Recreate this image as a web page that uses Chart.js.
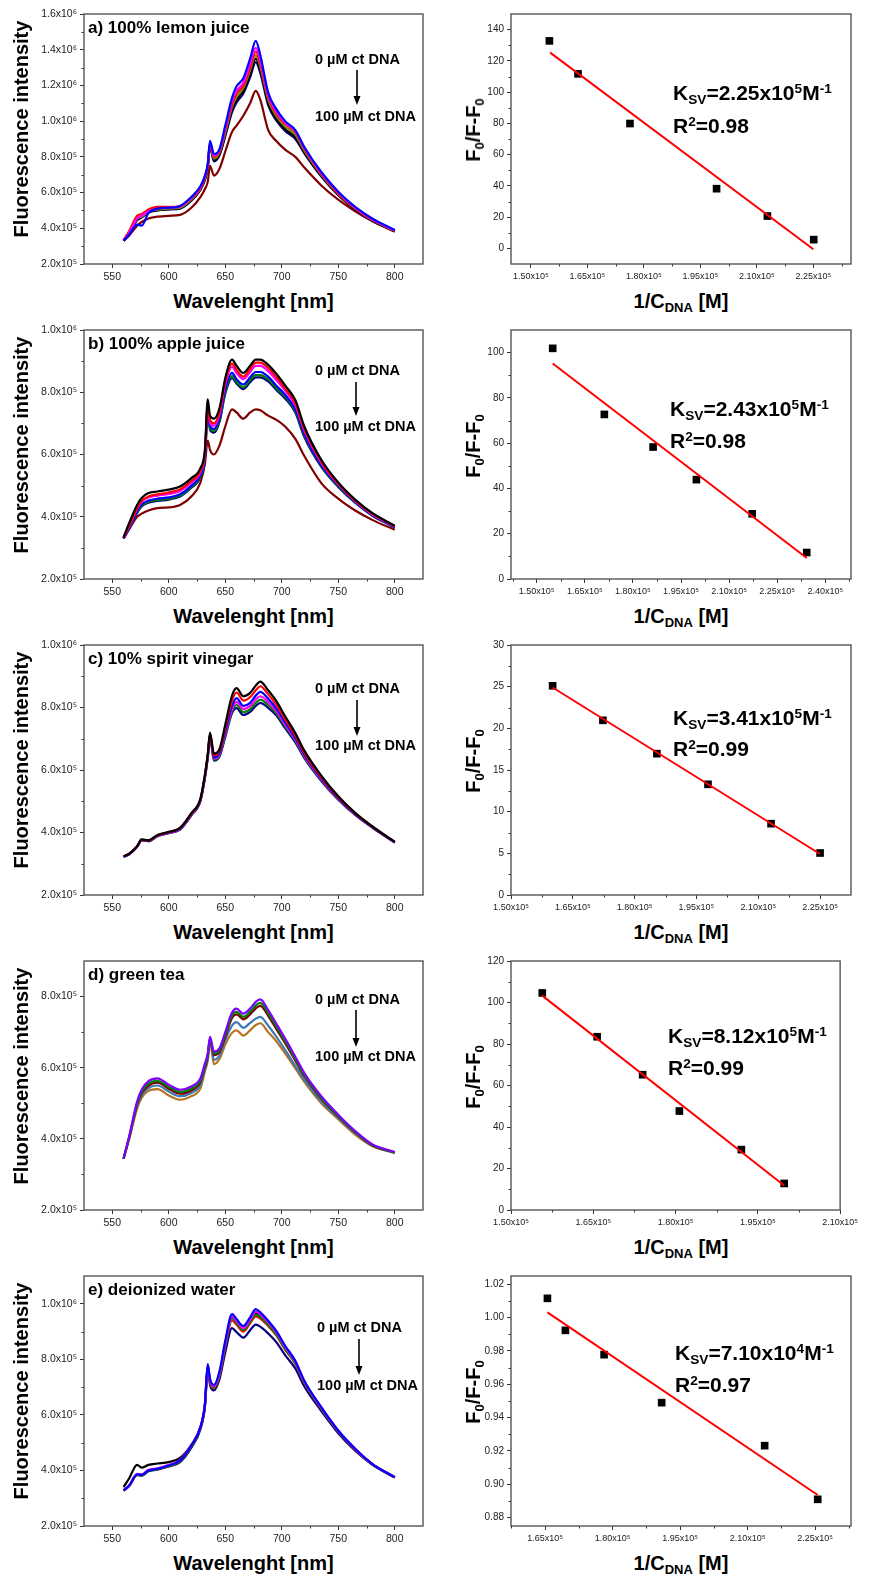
<!DOCTYPE html>
<html>
<head>
<meta charset="utf-8">
<title>Fluorescence quenching by ct DNA</title>
<script src="https://cdn.jsdelivr.net/npm/chart.js@4.4.1/dist/chart.umd.min.js"></script>
<style>
  html, body { margin: 0; padding: 0; background: #fff; }
  body { position: relative; width: 873px; height: 1584px; overflow: hidden;
         font-family: Arial, "Liberation Sans", Helvetica, sans-serif; color: #000; }
  #charts canvas { position: absolute; }
  .txt { position: absolute; font-weight: bold; white-space: nowrap; line-height: 1; transform: translateY(-50%); }
  .ytitle { font-size: 20px; transform: translate(-50%, -50%) rotate(-90deg); }
  .xtitle { font-size: 20px; transform: translate(-50%, -50%); }
  .plabel { font-size: 17px; }
  .conc { font-size: 14.5px; }
  .ann { font-size: 21px; }
  sub, sup { font-size: 0.65em; line-height: 0; position: relative; vertical-align: baseline; }
  sub { top: 0.3em; }
  sup { top: -0.5em; }
  #arrows { position: absolute; left: 0; top: 0; }
</style>
</head>
<body>
<div id="charts"></div>
<div id="labels"></div>
<svg id="arrows" width="873" height="1584"></svg>
<script>
// ============================================
// Spectra (x10^5 counts) and Stern-Volmer plots
// ============================================

const wavelength = [560, 565, 572, 576, 582, 590, 600, 610, 620, 628, 632, 634.5, 636.5, 640, 645, 650,
                    656, 660, 666, 672, 677, 681, 688, 695, 703, 712, 720, 735, 750, 765, 780, 800];

// a) lemon juice
const lemonBlue    = [3.30, 3.65, 4.20, 4.15, 4.85, 5.10, 5.15, 5.25, 5.75, 6.35, 6.95, 7.60, 8.90, 8.15, 8.45, 9.75, 11.30, 11.95, 12.40, 13.50, 14.50, 13.70, 11.60, 10.70, 10.00, 9.50, 8.55, 7.15, 6.05, 5.20, 4.55, 3.90];
const lemonMagenta = [3.32, 3.75, 4.55, 4.70, 4.95, 5.10, 5.15, 5.22, 5.70, 6.30, 6.90, 7.55, 8.80, 8.05, 8.40, 9.60, 11.10, 11.70, 12.15, 13.20, 14.10, 13.40, 11.45, 10.55, 9.90, 9.45, 8.50, 7.10, 6.00, 5.15, 4.50, 3.88];
const lemonRed     = [3.35, 3.85, 4.70, 4.80, 5.05, 5.20, 5.20, 5.25, 5.70, 6.25, 6.85, 7.50, 8.75, 8.00, 8.35, 9.50, 10.95, 11.55, 12.00, 13.00, 13.90, 13.25, 11.35, 10.45, 9.85, 9.40, 8.45, 7.05, 5.95, 5.12, 4.48, 3.87];
const lemonOlive   = [3.30, 3.75, 4.55, 4.65, 4.95, 5.05, 5.10, 5.15, 5.62, 6.22, 6.80, 7.45, 8.70, 7.90, 8.25, 9.35, 10.80, 11.35, 11.85, 12.85, 13.70, 13.05, 11.20, 10.30, 9.70, 9.25, 8.35, 7.00, 5.92, 5.10, 4.46, 3.86];
const lemonBlack   = [3.30, 3.72, 4.50, 4.62, 4.90, 5.02, 5.08, 5.12, 5.58, 6.18, 6.75, 7.40, 8.65, 7.80, 8.15, 9.25, 10.65, 11.20, 11.70, 12.65, 13.50, 12.90, 11.05, 10.15, 9.55, 9.10, 8.25, 6.95, 5.88, 5.08, 4.44, 3.85];
const lemonNavy    = [3.30, 3.70, 4.45, 4.60, 4.88, 5.00, 5.05, 5.10, 5.55, 6.15, 6.70, 7.35, 8.60, 7.75, 8.10, 9.15, 10.50, 11.05, 11.55, 12.45, 13.30, 12.70, 10.90, 10.05, 9.45, 9.00, 8.20, 6.90, 5.85, 5.05, 4.42, 3.84];
const lemonWine    = [3.30, 3.60, 4.15, 4.35, 4.55, 4.65, 4.70, 4.75, 5.15, 5.75, 6.20, 6.60, 7.50, 6.95, 7.35, 8.30, 9.40, 9.75, 10.30, 11.00, 11.70, 11.20, 9.50, 8.90, 8.40, 8.00, 7.40, 6.40, 5.60, 4.95, 4.40, 3.80];

// b) apple juice
const appleBlack   = [3.34, 3.80, 4.38, 4.60, 4.76, 4.81, 4.87, 4.97, 5.24, 5.56, 6.15, 7.77, 7.25, 7.15, 7.50, 8.45, 9.05, 8.85, 8.62, 8.85, 9.05, 9.05, 8.88, 8.60, 8.22, 7.75, 6.90, 5.83, 5.10, 4.55, 4.12, 3.71];
const appleRed     = [3.32, 3.72, 4.28, 4.50, 4.65, 4.72, 4.78, 4.88, 5.15, 5.48, 6.05, 7.65, 7.10, 7.00, 7.38, 8.35, 8.92, 8.72, 8.50, 8.75, 8.95, 8.95, 8.78, 8.50, 8.12, 7.65, 6.82, 5.77, 5.06, 4.52, 4.10, 3.70];
const appleMagenta = [3.32, 3.70, 4.25, 4.48, 4.62, 4.68, 4.73, 4.83, 5.10, 5.43, 6.00, 7.58, 7.02, 6.92, 7.30, 8.25, 8.82, 8.62, 8.42, 8.65, 8.85, 8.85, 8.68, 8.40, 8.05, 7.58, 6.76, 5.73, 5.04, 4.50, 4.08, 3.69];
const appleBlue    = [3.30, 3.65, 4.18, 4.40, 4.52, 4.58, 4.62, 4.72, 5.00, 5.35, 5.92, 7.48, 6.92, 6.82, 7.18, 8.10, 8.62, 8.42, 8.25, 8.48, 8.65, 8.65, 8.50, 8.22, 7.92, 7.46, 6.66, 5.66, 5.00, 4.47, 4.06, 3.67];
const appleOlive   = [3.30, 3.64, 4.15, 4.36, 4.48, 4.54, 4.58, 4.68, 4.96, 5.30, 5.88, 7.42, 6.86, 6.76, 7.12, 8.02, 8.52, 8.34, 8.16, 8.40, 8.55, 8.55, 8.42, 8.14, 7.86, 7.40, 6.61, 5.63, 4.98, 4.46, 4.05, 3.67];
const appleNavy    = [3.30, 3.63, 4.12, 4.33, 4.45, 4.51, 4.55, 4.65, 4.93, 5.27, 5.85, 7.38, 6.80, 6.70, 7.06, 7.95, 8.45, 8.28, 8.10, 8.32, 8.48, 8.48, 8.35, 8.08, 7.80, 7.35, 6.56, 5.60, 4.96, 4.45, 4.04, 3.66];
const appleWine    = [3.30, 3.60, 4.00, 4.10, 4.20, 4.28, 4.30, 4.38, 4.65, 5.10, 5.70, 6.45, 6.15, 6.00, 6.30, 6.90, 7.45, 7.35, 7.15, 7.35, 7.45, 7.42, 7.25, 7.12, 6.90, 6.50, 5.95, 5.08, 4.58, 4.20, 3.90, 3.58];

// c) spirit vinegar
const vinegarBlack   = [3.24, 3.32, 3.56, 3.78, 3.75, 3.92, 4.02, 4.15, 4.62, 5.08, 5.85, 6.50, 7.20, 6.52, 6.68, 7.45, 8.38, 8.62, 8.36, 8.47, 8.70, 8.83, 8.55, 8.22, 7.72, 7.18, 6.62, 5.82, 5.16, 4.63, 4.20, 3.70];
const vinegarRed     = [3.24, 3.32, 3.56, 3.77, 3.74, 3.91, 4.01, 4.14, 4.60, 5.06, 5.83, 6.47, 7.16, 6.46, 6.62, 7.35, 8.22, 8.48, 8.22, 8.33, 8.55, 8.68, 8.42, 8.10, 7.62, 7.10, 6.55, 5.77, 5.13, 4.61, 4.19, 3.70];
const vinegarBlue    = [3.23, 3.31, 3.55, 3.76, 3.73, 3.90, 4.00, 4.12, 4.58, 5.04, 5.80, 6.44, 7.12, 6.40, 6.56, 7.25, 8.05, 8.30, 8.05, 8.15, 8.38, 8.50, 8.28, 7.98, 7.52, 7.02, 6.49, 5.73, 5.10, 4.59, 4.18, 3.69];
const vinegarMagenta = [3.23, 3.31, 3.55, 3.76, 3.73, 3.89, 3.99, 4.11, 4.57, 5.03, 5.78, 6.42, 7.10, 6.36, 6.52, 7.18, 7.95, 8.18, 7.95, 8.05, 8.26, 8.36, 8.17, 7.90, 7.45, 6.97, 6.45, 5.70, 5.08, 4.58, 4.17, 3.69];
const vinegarOlive   = [3.23, 3.31, 3.55, 3.75, 3.72, 3.89, 3.99, 4.10, 4.56, 5.02, 5.76, 6.40, 7.08, 6.33, 6.48, 7.12, 7.88, 8.08, 7.85, 7.95, 8.15, 8.25, 8.08, 7.83, 7.40, 6.93, 6.42, 5.68, 5.07, 4.57, 4.17, 3.68];
const vinegarNavy    = [3.22, 3.30, 3.54, 3.75, 3.72, 3.88, 3.98, 4.09, 4.55, 5.00, 5.74, 6.38, 7.05, 6.30, 6.44, 7.06, 7.82, 7.98, 7.76, 7.86, 8.05, 8.15, 7.99, 7.76, 7.34, 6.88, 6.38, 5.65, 5.05, 4.56, 4.16, 3.68];

// d) green tea
const teaViolet = [3.44, 4.07, 5.05, 5.38, 5.62, 5.70, 5.52, 5.38, 5.47, 5.70, 6.12, 6.40, 6.87, 6.45, 6.55, 7.00, 7.55, 7.66, 7.52, 7.66, 7.85, 7.92, 7.62, 7.25, 6.82, 6.31, 5.85, 5.20, 4.68, 4.22, 3.85, 3.63];
const teaGreen  = [3.44, 4.05, 5.00, 5.32, 5.55, 5.63, 5.46, 5.32, 5.41, 5.64, 6.06, 6.35, 6.83, 6.40, 6.50, 6.93, 7.47, 7.57, 7.43, 7.57, 7.75, 7.82, 7.53, 7.17, 6.75, 6.25, 5.80, 5.16, 4.65, 4.20, 3.83, 3.62];
const teaWine   = [3.44, 4.04, 4.97, 5.28, 5.50, 5.58, 5.41, 5.27, 5.36, 5.60, 6.02, 6.31, 6.80, 6.35, 6.45, 6.87, 7.40, 7.50, 7.36, 7.50, 7.67, 7.74, 7.46, 7.10, 6.69, 6.20, 5.76, 5.13, 4.63, 4.19, 3.82, 3.62];
const teaSteel  = [3.44, 4.02, 4.92, 5.22, 5.43, 5.50, 5.33, 5.20, 5.29, 5.52, 5.96, 6.25, 6.78, 6.22, 6.35, 6.78, 7.18, 7.28, 7.12, 7.26, 7.38, 7.43, 7.18, 6.88, 6.50, 6.05, 5.66, 5.06, 4.59, 4.16, 3.81, 3.61];
const teaBrown  = [3.44, 4.00, 4.85, 5.15, 5.35, 5.40, 5.22, 5.10, 5.20, 5.42, 5.90, 6.20, 6.75, 6.10, 6.25, 6.65, 6.98, 7.05, 6.90, 7.05, 7.20, 7.25, 7.00, 6.75, 6.40, 5.98, 5.60, 5.00, 4.55, 4.12, 3.80, 3.60];

// e) deionized water
const waterBlue    = [3.28, 3.46, 3.86, 3.84, 4.00, 4.06, 4.18, 4.36, 4.90, 5.56, 6.40, 7.83, 7.30, 7.08, 7.59, 8.67, 9.63, 9.45, 9.20, 9.51, 9.81, 9.69, 9.39, 9.03, 8.49, 7.95, 7.23, 6.28, 5.44, 4.78, 4.24, 3.76];
const waterMagenta = [3.28, 3.46, 3.88, 3.86, 4.02, 4.08, 4.20, 4.38, 4.92, 5.57, 6.38, 7.78, 7.25, 7.03, 7.52, 8.58, 9.55, 9.38, 9.12, 9.43, 9.72, 9.62, 9.33, 8.98, 8.45, 7.91, 7.20, 6.26, 5.43, 4.77, 4.24, 3.76];
const waterGreen   = [3.28, 3.45, 3.85, 3.83, 3.99, 4.05, 4.16, 4.33, 4.86, 5.52, 6.34, 7.72, 7.20, 6.98, 7.45, 8.50, 9.48, 9.30, 9.05, 9.35, 9.60, 9.52, 9.24, 8.90, 8.38, 7.86, 7.16, 6.23, 5.41, 4.76, 4.23, 3.76];
const waterRed     = [3.28, 3.45, 3.85, 3.83, 3.99, 4.05, 4.16, 4.33, 4.86, 5.52, 6.33, 7.70, 7.18, 6.96, 7.42, 8.45, 9.40, 9.25, 9.00, 9.30, 9.55, 9.47, 9.20, 8.87, 8.35, 7.84, 7.14, 6.22, 5.40, 4.75, 4.23, 3.75];
const waterNavy    = [3.27, 3.44, 3.83, 3.81, 3.97, 4.03, 4.14, 4.30, 4.82, 5.48, 6.28, 7.62, 7.08, 6.88, 7.30, 8.25, 9.12, 8.98, 8.78, 9.05, 9.25, 9.18, 8.93, 8.63, 8.15, 7.67, 7.02, 6.14, 5.34, 4.71, 4.21, 3.74];
const waterBlack   = [3.40, 3.72, 4.20, 4.10, 4.20, 4.25, 4.30, 4.45, 4.92, 5.55, 6.35, 7.75, 7.25, 7.02, 7.50, 8.55, 9.50, 9.33, 9.08, 9.38, 9.65, 9.55, 9.27, 8.93, 8.42, 7.88, 7.18, 6.25, 5.42, 4.76, 4.23, 3.76];

// Stern-Volmer: 1/C_DNA (x10^5 M) vs F0/(F-F0), with linear fit end points
const lemonInv   = [1.549, 1.625, 1.763, 1.993, 2.128, 2.251];
const lemonRatio = [132.8, 111.7, 79.9, 38.2, 20.7, 5.6];
const lemonFitX  = [1.551, 2.250];
const lemonFitY  = [125.3, -0.6];

const appleInv   = [1.550, 1.711, 1.863, 1.998, 2.172, 2.342];
const appleRatio = [101.9, 72.7, 58.3, 43.9, 28.8, 11.7];
const appleFitX  = [1.550, 2.342];
const appleFitY  = [95.2, 9.3];

const vinegarInv   = [1.601, 1.723, 1.854, 1.978, 2.131, 2.250];
const vinegarRatio = [25.1, 20.96, 16.96, 13.28, 8.56, 5.04];
const vinegarFitX  = [1.601, 2.250];
const vinegarFitY  = [24.9, 4.92];

const teaInv   = [1.557, 1.657, 1.740, 1.807, 1.920, 1.998];
const teaRatio = [104.6, 83.5, 65.2, 47.7, 29.1, 12.8];
const teaFitX  = [1.557, 1.998];
const teaFitY  = [103.3, 11.8];

const waterInv   = [1.655, 1.695, 1.781, 1.909, 2.138, 2.256];
const waterRatio = [1.0116, 0.9924, 0.9778, 0.949, 0.9232, 0.891];
const waterFitX  = [1.655, 2.256];
const waterFitY  = [1.0032, 0.8936];

// tick values
const wavelengthTicks = [550, 600, 650, 700, 750, 800];
const lemonIntTicks   = [2, 4, 6, 8, 10, 12, 14, 16];
const appleIntTicks   = [2, 4, 6, 8, 10];
const vinegarIntTicks = [2, 4, 6, 8, 10];
const teaIntTicks     = [2, 4, 6, 8];
const waterIntTicks   = [2, 4, 6, 8, 10];

const lemonInvTicks   = [1.50, 1.65, 1.80, 1.95, 2.10, 2.25];
const appleInvTicks   = [1.50, 1.65, 1.80, 1.95, 2.10, 2.25, 2.40];
const vinegarInvTicks = [1.50, 1.65, 1.80, 1.95, 2.10, 2.25];
const teaInvTicks     = [1.50, 1.65, 1.80, 1.95, 2.10];
const waterInvTicks   = [1.65, 1.80, 1.95, 2.10, 2.25];

const lemonRatioTicks   = [0, 20, 40, 60, 80, 100, 120, 140];
const appleRatioTicks   = [0, 20, 40, 60, 80, 100];
const vinegarRatioTicks = [0, 5, 10, 15, 20, 25, 30];
const teaRatioTicks     = [0, 20, 40, 60, 80, 100, 120];
const waterRatioTicks   = [0.88, 0.90, 0.92, 0.94, 0.96, 0.98, 1.00, 1.02];

// text
const sampleNames = ['a) 100% lemon juice', 'b) 100% apple juice', 'c) 10% spirit vinegar', 'd) green tea', 'e) deionized water'];
const ksvMantissa = ['2.25', '2.43', '3.41', '8.12', '7.10'];
const ksvExponent = ['5', '5', '5', '5', '4'];
const rSquared    = ['0.98', '0.98', '0.99', '0.99', '0.97'];

// ── Layout ──
const ROW_TOP = [14, 330, 645, 961, 1276];
const ROW_BOT = [264, 579, 895, 1210, 1526];
const FONT = 'Arial, "Liberation Sans", "DejaVu Sans", sans-serif';

const fmtIntensity = v => v >= 10 ? (v / 10).toFixed(1) + 'x10⁶' : v.toFixed(1) + 'x10⁵';
const fmtInv = v => v.toFixed(2) + 'x10⁵';
const fmtPlain = v => String(v);
const fmt2 = v => v.toFixed(2);

// frame + minor ticks (Origin style)
const framePlugin = {
  id: 'frame',
  afterDraw(chart) {
    const { ctx, chartArea: a, scales } = chart;
    ctx.save();
    ctx.strokeStyle = '#333';
    ctx.lineWidth = 1;
    const minor = (scale, horiz) => {
      const t = scale.ticks.map(k => k.value);
      const step = t[1] - t[0];
      for (let v = t[0] - step / 2; v < scale.max - 1e-9; v += step) {
        if (v <= scale.min + 1e-9) continue;
        const p = Math.round(scale.getPixelForValue(v)) + 0.5;
        ctx.beginPath();
        if (horiz) { ctx.moveTo(p, a.bottom); ctx.lineTo(p, a.bottom + 2.5); }
        else { ctx.moveTo(a.left, p); ctx.lineTo(a.left - 2.5, p); }
        ctx.stroke();
      }
    };
    minor(scales.x, true);
    minor(scales.y, false);
    ctx.strokeStyle = '#555';
    ctx.lineWidth = 1.4;
    ctx.strokeRect(a.left, a.top, a.right - a.left, a.bottom - a.top);
    ctx.restore();
  }
};

function scaleOpts(s, horiz, size) {
  return {
    type: 'linear', min: s.min, max: s.max,
    afterBuildTicks: sc => { sc.ticks = s.ticks.map(v => ({ value: v })); },
    afterFit: sc => { if (horiz) sc.height = size; else sc.width = size; },
    ticks: { callback: s.fmt, font: { family: FONT, size: s.size }, color: '#222', padding: 3,
             autoSkip: false, maxRotation: 0, minRotation: 0 },
    grid: { drawOnChartArea: false, drawTicks: true, tickLength: 4, tickColor: '#333', tickWidth: 1 },
    border: { display: false }
  };
}

function makeChart(col, row, datasets, xs, ys) {
  const left = col ? 511 : 84, right = col ? 851 : 423, yw = col ? 70 : 80;
  const top = ROW_TOP[row], bot = ROW_BOT[row];
  const cv = document.createElement('canvas');
  cv.width = right - left + yw + 10;
  cv.height = bot - top + 36;
  cv.style.left = (left - yw) + 'px';
  cv.style.top = (top - 10) + 'px';
  document.getElementById('charts').appendChild(cv);
  new Chart(cv, {
    type: 'line',
    data: { datasets },
    options: {
      responsive: false, animation: false, events: [],
      layout: { autoPadding: false, padding: { left: 0, top: 10, right: 10, bottom: 0 } },
      plugins: { legend: { display: false }, tooltip: { enabled: false } },
      scales: { x: scaleOpts(xs, true, 26), y: scaleOpts(ys, false, yw) }
    },
    plugins: [framePlugin]
  });
}

function spectrum(values, color) {
  return {
    data: wavelength.map((w, i) => ({ x: w, y: values[i] })),
    borderColor: color, borderWidth: 2.2, pointRadius: 0,
    cubicInterpolationMode: 'monotone', fill: false
  };
}

function sternVolmer(xs, ys, fx, fy) {
  return [
    { data: fx.map((x, i) => ({ x, y: fy[i] })), borderColor: '#ff0000', borderWidth: 2, pointRadius: 0, fill: false },
    { data: xs.map((x, i) => ({ x, y: ys[i] })), showLine: false, pointStyle: 'rect', pointRadius: 5.4,
      backgroundColor: '#000', borderColor: '#000', borderWidth: 0 }
  ];
}

const waveAxis = { min: 525, max: 825, ticks: wavelengthTicks, fmt: fmtPlain, size: 10.5 };

const spectraPanels = [
  { ticks: lemonIntTicks, min: 2, max: 16, lines: [
      [lemonBlue, '#0000ff'], [lemonMagenta, '#ff00ff'], [lemonRed, '#ff0000'], [lemonOlive, '#808000'],
      [lemonBlack, '#000000'], [lemonNavy, '#000080'], [lemonWine, '#800000']] },
  { ticks: appleIntTicks, min: 2, max: 10, lines: [
      [appleBlack, '#000000'], [appleRed, '#ff0000'], [appleMagenta, '#ff00ff'], [appleBlue, '#0000ff'],
      [appleOlive, '#008000'], [appleNavy, '#000080'], [appleWine, '#800000']] },
  { ticks: vinegarIntTicks, min: 2, max: 10, lines: [
      [vinegarBlack, '#000000'], [vinegarRed, '#ff0000'], [vinegarBlue, '#0000ff'], [vinegarMagenta, '#ff00ff'],
      [vinegarOlive, '#008000'], [vinegarNavy, '#000080']] },
  { ticks: teaIntTicks, min: 2, max: 9, lines: [
      [teaViolet, '#8000ff'], [teaGreen, '#008000'], [teaWine, '#800000'], [teaSteel, '#3d7ab8'], [teaBrown, '#b8731e']] },
  { ticks: waterIntTicks, min: 2, max: 11, lines: [
      [waterBlue, '#0000ff'], [waterMagenta, '#ff00ff'], [waterGreen, '#008000'], [waterRed, '#ff0000'],
      [waterNavy, '#000080'], [waterBlack, '#000000']] }
];

const svPanels = [
  { sets: sternVolmer(lemonInv, lemonRatio, lemonFitX, lemonFitY),
    x: { min: 1.447, max: 2.35, ticks: lemonInvTicks }, y: { min: -10, max: 150, ticks: lemonRatioTicks, fmt: fmtPlain } },
  { sets: sternVolmer(appleInv, appleRatio, appleFitX, appleFitY),
    x: { min: 1.42, max: 2.48, ticks: appleInvTicks }, y: { min: 0, max: 110, ticks: appleRatioTicks, fmt: fmtPlain } },
  { sets: sternVolmer(vinegarInv, vinegarRatio, vinegarFitX, vinegarFitY),
    x: { min: 1.50, max: 2.325, ticks: vinegarInvTicks }, y: { min: 0, max: 30, ticks: vinegarRatioTicks, fmt: fmtPlain } },
  { sets: sternVolmer(teaInv, teaRatio, teaFitX, teaFitY),
    x: { min: 1.50, max: 2.10, ticks: teaInvTicks }, y: { min: 0, max: 120, ticks: teaRatioTicks, fmt: fmtPlain } },
  { sets: sternVolmer(waterInv, waterRatio, waterFitX, waterFitY),
    x: { min: 1.574, max: 2.33, ticks: waterInvTicks }, y: { min: 0.875, max: 1.025, ticks: waterRatioTicks, fmt: fmt2 } }
];

spectraPanels.forEach((p, r) => {
  makeChart(0, r, p.lines.map(([v, c]) => spectrum(v, c)), waveAxis,
            { min: p.min, max: p.max, ticks: p.ticks, fmt: fmtIntensity, size: 10.5 });
});

svPanels.forEach((p, r) => {
  makeChart(1, r, p.sets, { ...p.x, fmt: fmtInv, size: 9 }, { ...p.y, size: 10 });
});

// ── Text ──
const labels = document.getElementById('labels');
function addText(cls, html, x, y) {
  const d = document.createElement('div');
  d.className = 'txt ' + cls;
  d.innerHTML = html;
  d.style.left = x + 'px';
  d.style.top = y + 'px';
  labels.appendChild(d);
}

const concTop = [59, 370, 688, 999, 1327];
const concBot = [116, 426, 745, 1056, 1385];
const arrowX  = [357, 356, 357, 356, 359];
const arrowY  = [[70, 105], [382, 416], [700, 736], [1010, 1047], [1339, 1375]];
const annX    = [673, 670, 673, 668, 675];
const ksvY    = [92, 408, 717, 1035, 1352];
const r2Y     = [125, 440, 748, 1067, 1384];

let svg = '';
for (let r = 0; r < 5; r++) {
  const mid = (ROW_TOP[r] + ROW_BOT[r]) / 2;
  addText('ytitle', 'Fluorescence intensity', 21, mid - 10);
  addText('xtitle', 'Wavelenght [nm]', 253.5, ROW_BOT[r] + 37);
  addText('plabel', sampleNames[r], 88, ROW_TOP[r] + 13);
  addText('conc', '0 µM ct DNA', r === 4 ? 317 : 315, concTop[r]);
  addText('conc', '100 µM ct DNA', r === 4 ? 317 : 315, concBot[r]);

  addText('ytitle', 'F<sub>0</sub>/F-F<sub>0</sub>', 473, mid - 9);
  addText('xtitle', '1/C<sub>DNA</sub> [M]', 681, ROW_BOT[r] + 37);
  addText('ann', 'K<sub>SV</sub>=' + ksvMantissa[r] + 'x10<sup>' + ksvExponent[r] + '</sup>M<sup>-1</sup>', annX[r], ksvY[r]);
  addText('ann', 'R<sup>2</sup>=' + rSquared[r], annX[r], r2Y[r]);

  const x = arrowX[r], [y1, y2] = arrowY[r];
  svg += `<line x1="${x}" y1="${y1}" x2="${x}" y2="${y2 - 8}" stroke="#000" stroke-width="1.6"/>` +
         `<polygon points="${x - 3.5},${y2 - 9} ${x + 3.5},${y2 - 9} ${x},${y2}" fill="#000"/>`;
}
document.getElementById('arrows').innerHTML = svg;
</script>
</body>
</html>
